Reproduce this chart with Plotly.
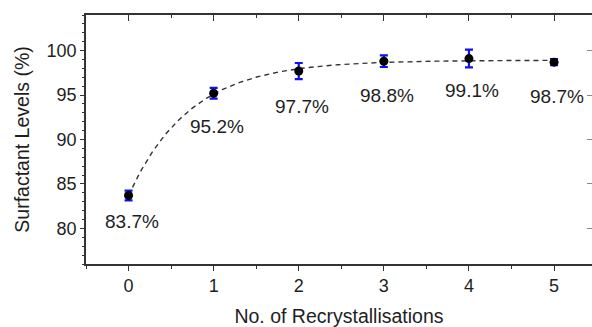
import numpy as np
import plotly.graph_objects as go

# Surfactant level after each recrystallisation step
recryst = [0, 1, 2, 3, 4, 5]
levels = [83.7, 95.2, 97.7, 98.8, 99.1, 98.7]
errors = [0.55, 0.6, 0.9, 0.65, 1.0, 0.35]
labels = ["83.7%", "95.2%", "97.7%", "98.8%", "99.1%", "98.7%"]
label_offsets = [26, 33, 35, 34, 32, 34]

# Exponential rise to plateau fitted to the data: y = A - B*exp(-x/t)
xd = np.array(recryst, dtype=float)
yd = np.array(levels, dtype=float)
best = None
for t in np.linspace(0.2, 2.0, 1801):
    f = np.exp(-xd / t)
    M = np.column_stack([np.ones_like(f), -f])
    coef, *_ = np.linalg.lstsq(M, yd, rcond=None)
    r = np.sum((M @ coef - yd) ** 2)
    if best is None or r < best[0]:
        best = (r, t, coef)
_, t_fit, (A_fit, B_fit) = best
xf = np.linspace(0, 5, 200)
yf = A_fit - B_fit * np.exp(-xf / t_fit)

AX = "#333333"
TXT = "#1e1e1e"
FONT = "Liberation Sans, Arial, sans-serif"

fig = go.Figure()
fig.add_trace(go.Scatter(
    x=xf, y=yf, mode="lines",
    line=dict(color="#333333", width=1.4, dash="5px,4px"),
    hoverinfo="skip", showlegend=False,
))
fig.add_trace(go.Scatter(
    x=recryst, y=levels, mode="markers",
    marker=dict(color="black", size=9, symbol="circle"),
    error_y=dict(type="data", array=errors, visible=True,
                 color="#1010ee", thickness=2.2, width=4),
    showlegend=False,
))
# carrier trace for the mirrored top/right axes
fig.add_trace(go.Scatter(x=[None], y=[None], xaxis="x2", yaxis="y2",
                         showlegend=False, hoverinfo="skip"))

for xv, yv, lab, off in zip(recryst, levels, labels, label_offsets):
    fig.add_annotation(x=xv, y=yv, text=lab, showarrow=False,
                       yshift=-off, xshift=3,
                       font=dict(family=FONT, size=19, color=TXT))

xr = [-0.5, 5.446]
yr = [76, 104]

fig.update_layout(
    width=592, height=327,
    margin=dict(l=86, r=0, t=15, b=63),
    paper_bgcolor="white", plot_bgcolor="white",
    font=dict(family=FONT, color=TXT),
    xaxis=dict(
        range=xr, tickmode="array", tickvals=recryst,
        showline=True, linecolor=AX, linewidth=1.6,
        ticks="outside", ticklen=5, tickwidth=1.4, tickcolor=AX,
        minor=dict(ticks="outside", dtick=0.5, tick0=0, ticklen=3,
                   tickwidth=1.2, tickcolor=AX),
        showgrid=False, zeroline=False,
        tickfont=dict(size=18, color=TXT),
        title=dict(text="No. of Recrystallisations", standoff=16,
                   font=dict(size=19.5, color=TXT)),
    ),
    yaxis=dict(
        range=yr, tickvals=[80, 85, 90, 95, 100],
        showline=True, linecolor=AX, linewidth=1.6,
        ticks="outside", ticklen=4, tickwidth=1.4, tickcolor=AX,
        minor=dict(ticks="outside", dtick=1, tick0=0, ticklen=2.5,
                   tickwidth=1.1, tickcolor=AX),
        showgrid=False, zeroline=False,
        tickfont=dict(size=18, color=TXT),
        title=dict(text="Surfactant Levels (%)", standoff=12,
                   font=dict(size=19.5, color=TXT)),
    ),
    xaxis2=dict(
        overlaying="x", side="top", range=xr,
        tickmode="array", tickvals=recryst, showticklabels=False,
        showline=True, linecolor=AX, linewidth=1.6,
        ticks="inside", ticklen=6, tickwidth=1.4, tickcolor=AX,
        minor=dict(ticks="inside", dtick=0.5, tick0=0, ticklen=3,
                   tickwidth=1.2, tickcolor=AX),
        showgrid=False, zeroline=False,
    ),
    yaxis2=dict(
        overlaying="y", side="right", range=yr,
        tickvals=[80, 85, 90, 95, 100], showticklabels=False,
        showline=False,
        ticks="inside", ticklen=5, tickwidth=1.2, tickcolor="#888888",
        showgrid=False, zeroline=False,
    ),
)

fig.write_html("out.html")
